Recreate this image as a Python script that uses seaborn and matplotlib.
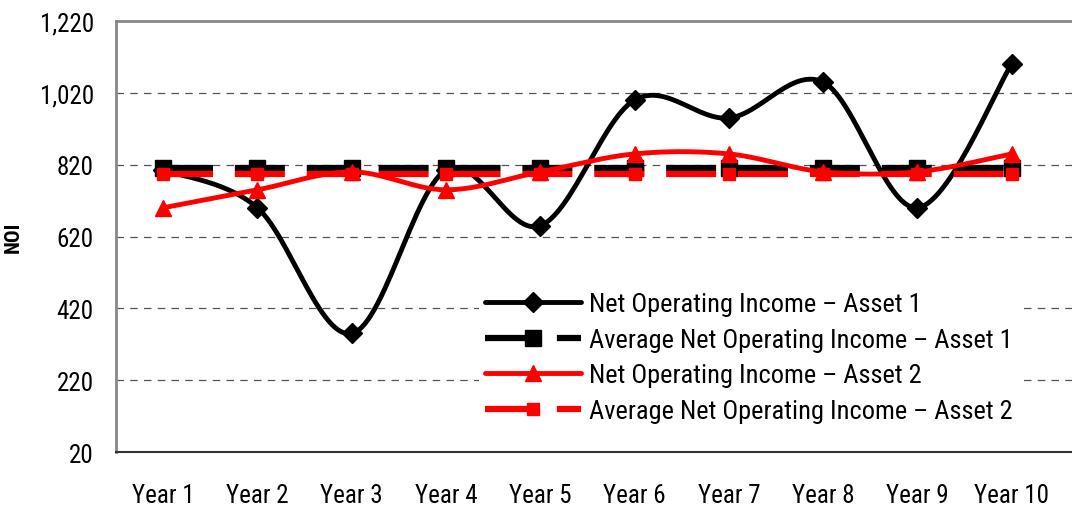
import numpy as np
import pandas as pd
import matplotlib
matplotlib.use('Agg')
import matplotlib.pyplot as plt
import seaborn as sns
from matplotlib import font_manager
from matplotlib.lines import Line2D
from matplotlib.ticker import FuncFormatter

years = ['Year 1', 'Year 2', 'Year 3', 'Year 4', 'Year 5',
         'Year 6', 'Year 7', 'Year 8', 'Year 9', 'Year 10']
noi_asset1 = [805, 700, 350, 805, 650, 1000, 950, 1050, 700, 1100]
noi_asset2 = [700, 750, 800, 750, 800, 850, 850, 800, 800, 850]
labels = ['Net Operating Income – Asset 1', 'Average Net Operating Income – Asset 1',
          'Net Operating Income – Asset 2', 'Average Net Operating Income – Asset 2']
y_ticks = [20, 220, 420, 620, 820, 1020, 1220]


def smooth(y, n=30):
    # Excel-style smoothed line (Catmull-Rom as cubic Bezier)
    x = np.arange(len(y), dtype=float)
    y = np.asarray(y, dtype=float)
    px = np.concatenate([[x[0]], x, [x[-1]]])
    py = np.concatenate([[y[0]], y, [y[-1]]])
    xs, ys = [], []
    t = np.linspace(0, 1, n)
    for i in range(1, len(x)):
        p0 = np.array([px[i - 1], py[i - 1]])
        p1 = np.array([px[i], py[i]])
        p2 = np.array([px[i + 1], py[i + 1]])
        p3 = np.array([px[i + 2], py[i + 2]])
        c1 = p1 + (p2 - p0) / 6
        c2 = p2 - (p3 - p1) / 6
        pts = ((1 - t) ** 3)[:, None] * p1 + (3 * (1 - t) ** 2 * t)[:, None] * c1 \
            + (3 * (1 - t) * t ** 2)[:, None] * c2 + (t ** 3)[:, None] * p2
        xs.extend(pts[:, 0])
        ys.extend(pts[:, 1])
    return pd.DataFrame({'x': xs, 'y': ys})


sns.set_style('white')

# pick a narrow font if one is installed
names = {f.name for f in font_manager.fontManager.ttflist}
fam = 'DejaVu Sans'
stretch = 'normal'
for cand in ['Liberation Sans Narrow', 'Roboto Condensed', 'Open Sans Condensed', 'DejaVu Sans Condensed']:
    if cand in names:
        fam = cand
        break
else:
    cond = [f for f in font_manager.fontManager.ttflist
            if f.name in ('Roboto', 'Open Sans', 'DejaVu Sans', 'Noto Sans')
            and f.stretch in ('condensed', 'semi-condensed', 'extra-condensed')]
    if cond:
        fam = cond[0].name
        stretch = cond[0].stretch
plt.rcParams['font.family'] = [fam, 'DejaVu Sans']
plt.rcParams['font.stretch'] = stretch
plt.rcParams['text.color'] = 'black'

fig = plt.figure(figsize=(10.72, 5.06), dpi=100)
ax = fig.add_axes([0.1082, 0.1047, 0.8918, 0.8518])

idx = np.arange(len(years))
avg1 = [np.mean(noi_asset1)] * len(years)
avg2 = [np.mean(noi_asset2)] * len(years)

for yv in y_ticks[1:-1]:
    ax.axhline(yv, color='#555555', lw=0.9, ls=(0, (6, 5)), zorder=0)

dash = (0, (8, 3.5))
s1 = smooth(noi_asset1)
sns.lineplot(data=s1, x='x', y='y', ax=ax, color='black', lw=3.5, sort=False, zorder=2)
ax.plot(idx, noi_asset1, ls='none', marker='D', ms=10, color='black', zorder=2)
ax.plot(idx, avg1, ls=dash, lw=4.5, marker='s', ms=12, color='black', zorder=3)
s2 = smooth(noi_asset2)
sns.lineplot(data=s2, x='x', y='y', ax=ax, color='red', lw=3.5, sort=False, zorder=4)
ax.plot(idx, noi_asset2, ls='none', marker='^', ms=12, color='red', zorder=6)
ax.plot(idx, avg2, ls=dash, lw=4.5, marker='s', ms=8, color='red', zorder=5)

ax.set_xlim(-0.5, 9.64)
ax.set_ylim(20, 1220)
ax.set_xticks(idx)
ax.set_xticklabels(years)
ax.set_yticks(y_ticks)
ax.yaxis.set_major_formatter(FuncFormatter(lambda v, p: f'{int(v):,}'))
ax.tick_params(axis='both', length=0, labelsize=18, colors='black')
ax.tick_params(axis='x', pad=22)
ax.tick_params(axis='y', pad=16)
ax.set_xlabel('')
ax.set_ylabel('NOI', fontsize=15, fontweight='bold', labelpad=12, color='black')

ax.spines['right'].set_visible(False)
for side in ['top', 'left']:
    ax.spines[side].set_color('#888888')
    ax.spines[side].set_linewidth(2)
ax.spines['bottom'].set_color('#333333')
ax.spines['bottom'].set_linewidth(1.5)

handles = [
    Line2D([], [], color='black', lw=3.5, marker='D', ms=10),
    Line2D([], [], color='black', lw=4.5, ls=dash, marker='s', ms=12),
    Line2D([], [], color='red', lw=3.5, marker='^', ms=12),
    Line2D([], [], color='red', lw=4.5, ls=dash, marker='s', ms=8),
]
leg = ax.legend(handles, labels, loc='lower left', bbox_to_anchor=(0.38, 0.055),
                frameon=True, fontsize=19, handlelength=3.67, handletextpad=0.3,
                labelspacing=0.44, borderpad=0.2, borderaxespad=0)
leg.get_frame().set_edgecolor('none')
leg.get_frame().set_facecolor('white')
leg.get_frame().set_alpha(1)
for txt in leg.get_texts():
    txt.set_color('black')

fig.savefig('out.png', dpi=100)
